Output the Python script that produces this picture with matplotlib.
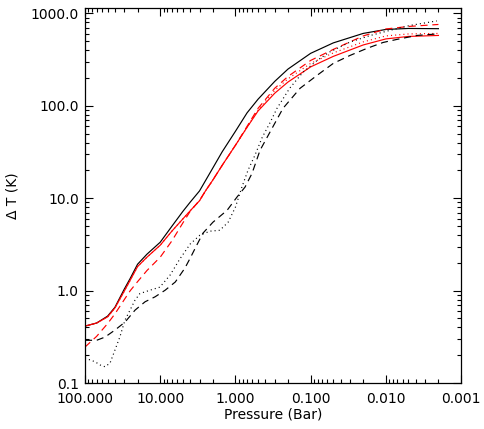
import numpy as np
import matplotlib
matplotlib.use("Agg")
import matplotlib.pyplot as plt
from matplotlib.ticker import FixedLocator, LogLocator, NullFormatter

# shared pressure grid (bar) for the smooth curves
p_grid = [100, 70, 50, 40, 30, 25, 20, 15, 10, 7, 5, 4, 3, 2.5, 2, 1.5, 1, 0.7,
          0.5, 0.3, 0.2, 0.1, 0.05, 0.02, 0.01, 0.005, 0.002]

t_black_solid = [0.413, 0.446, 0.53, 0.66, 1.04, 1.36, 1.93, 2.48, 3.34, 4.97,
                 7.2, 9.05, 12.0, 15.5, 21.2, 31.8, 53, 84, 118, 184, 250, 370,
                 480, 608, 671, 688, 684]
t_red_solid = [0.413, 0.446, 0.52, 0.65, 0.99, 1.30, 1.82, 2.30, 3.10, 4.4,
               5.97, 7.3, 9.4, 12.0, 15.7, 22.7, 37.4, 58.6, 88, 137, 181, 264,
               343, 456, 530, 564, 578]
t_red_dashed = [0.245, 0.32, 0.44, 0.56, 0.80, 1.0, 1.25, 1.65, 2.3, 3.45,
                5.4, 7.2, 9.5, 12.0, 15.7, 22.7, 37.4, 60, 94, 155, 208, 310,
                408, 571, 679, 723, 760]
t_red_dotted = [0.413, 0.446, 0.52, 0.65, 0.99, 1.30, 1.82, 2.30, 3.10, 4.4,
                5.97, 7.3, 9.4, 12.0, 15.7, 22.7, 37.4, 58.6, 90, 147, 196, 288,
                374, 492, 571, 600, 608]

p_black_dashed = [100, 70, 54.2, 40, 29.4, 21.6, 15.9, 11.7, 8.6, 6.3, 4.7, 4.0,
                  3.27, 2.70, 1.99, 1.29, 0.953, 0.745, 0.601, 0.471, 0.347,
                  0.233, 0.138, 0.082, 0.050, 0.030, 0.0178, 0.0109, 0.0071,
                  0.00385, 0.00208]
t_black_dashed = [0.29, 0.29, 0.314, 0.374, 0.456, 0.615, 0.757, 0.857, 1.01,
                  1.24, 1.75, 2.24, 3.1, 4.19, 5.5, 7.4, 10.3, 13.2, 18.6, 33,
                  52, 94, 155, 214, 288, 351, 419, 485, 524, 578, 600]

p_black_dotted = [100, 73.6, 63.2, 54.2, 46.5, 40, 34.3, 29.4, 25.2, 21.6, 18.6,
                  13.7, 10.1, 7.4, 5.5, 4.0, 2.97, 2.18, 1.61, 1.25, 1.0, 0.82,
                  0.68, 0.55, 0.44, 0.35, 0.28, 0.19, 0.127, 0.082, 0.056,
                  0.030, 0.016, 0.0089, 0.0048, 0.0021]
t_black_dotted = [0.186, 0.17, 0.157, 0.15, 0.164, 0.227, 0.317, 0.48, 0.615,
                  0.79, 0.93, 1.01, 1.09, 1.47, 2.19, 3.19, 3.98, 4.4, 4.5, 5.5,
                  8.0, 13.2, 20.1, 29.2, 45.6, 64.7, 94, 155, 230, 310, 382,
                  490, 578, 655, 741, 830]

x_ticks = [100, 10, 1, 0.1, 0.01, 0.001]
x_labels = ["100.000", "10.000", "1.000", "0.100", "0.010", "0.001"]
y_ticks = [0.1, 1, 10, 100, 1000]
y_labels = ["0.1", "1.0", "10.0", "100.0", "1000.0"]

fig = plt.figure(figsize=(4.84, 4.29), dpi=100)
ax = fig.add_axes([0.1756, 0.1072, 0.777, 0.8742])

lw = 0.85
dash = (6, 4)
dot = (0.9, 2.6)
ax.plot(p_grid, t_black_solid, color="black", lw=lw)
ax.plot(p_grid, t_red_solid, color="red", lw=lw)
ax.plot(p_grid, t_red_dashed, color="red", lw=lw, dashes=dash)
ax.plot(p_grid, t_red_dotted, color="red", lw=lw, dashes=dot)
ax.plot(p_black_dashed, t_black_dashed, color="black", lw=lw, dashes=dash)
ax.plot(p_black_dotted, t_black_dotted, color="black", lw=lw, dashes=dot)

ax.set_xscale("log")
ax.set_yscale("log")
ax.set_xlim(100, 0.001)
ax.set_ylim(0.1, 1146)

ax.xaxis.set_major_locator(FixedLocator(x_ticks))
ax.set_xticklabels(x_labels)
ax.yaxis.set_major_locator(FixedLocator(y_ticks))
ax.set_yticklabels(y_labels)
ax.xaxis.set_minor_locator(LogLocator(base=10, subs=np.arange(2, 10)))
ax.yaxis.set_minor_locator(LogLocator(base=10, subs=np.arange(2, 10)))
ax.xaxis.set_minor_formatter(NullFormatter())
ax.yaxis.set_minor_formatter(NullFormatter())

ax.tick_params(which="both", direction="in", top=True, right=True,
               width=0.8, labelsize=10)
ax.tick_params(axis="x", pad=6.5)
ax.tick_params(axis="y", pad=4.5)
ax.tick_params(which="major", length=6)
ax.tick_params(which="minor", length=3)
for s in ax.spines.values():
    s.set_linewidth(0.9)

ax.set_xlabel("Pressure (Bar)", fontsize=10, labelpad=1)
ax.set_ylabel("Δ T (K)", fontsize=10, labelpad=8)

fig.savefig("out.png", dpi=100)
